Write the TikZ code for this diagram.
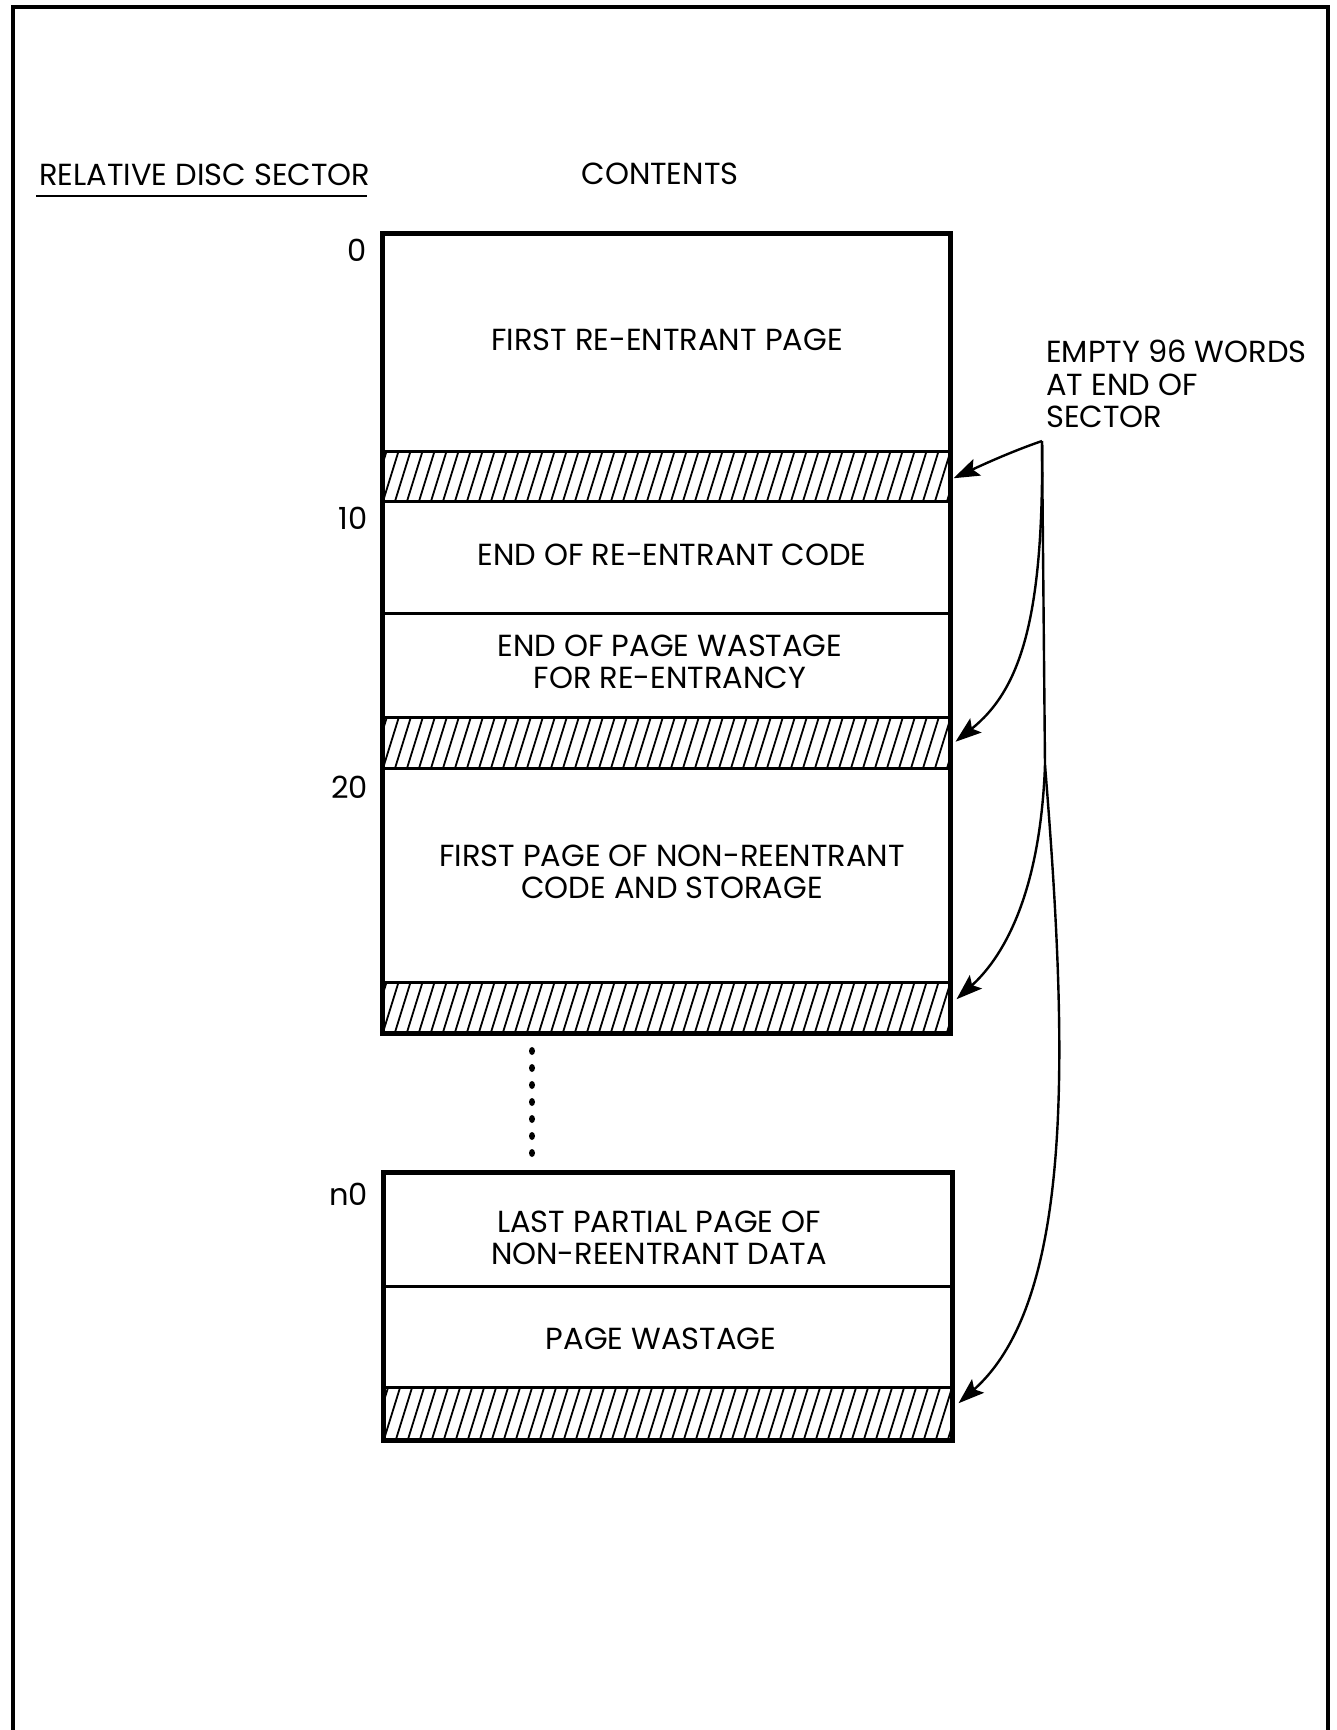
\documentclass[tikz,border=0pt]{standalone}
\usepackage{fontspec}
\setmainfont{Poppins}
\usetikzlibrary{arrows.meta,calc}
\begin{document}
\begin{tikzpicture}[x=1pt,y=-1pt,
  lbl/.style={inner sep=0pt, font=\fontsize{30.5}{32.5}\selectfont, align=center},
  cell/.style={draw, line width=2.5pt, minimum width=566pt, inner sep=0pt, anchor=north west},
  celltwo/.style={cell, minimum width=567pt},
  hatchline/.style={line width=1.8pt},
  outline/.style={line width=4pt},
  ptr/.style={line width=2.4pt, -{Stealth[length=26pt,width=18pt,inset=5pt]}},
]
\useasboundingbox (0,0) rectangle (1337,1730);
% outer frame
\draw[outline] (13,1730) -- (13,7) -- (1328,7) -- (1328,1730);
% first block
\node[cell, minimum height=217pt] (r1) at (382,233) {};
\node[cell, minimum height=50pt] (h1) at (382,450) {};
\node[cell, minimum height=112pt] (r2) at (382,500) {};
\node[cell, minimum height=104pt] (r3) at (382,612) {};
\node[cell, minimum height=51pt] (h2) at (382,716) {};
\node[cell, minimum height=214pt] (r4) at (382,767) {};
\node[cell, minimum height=50pt] (h3) at (382,981) {};
% second block
\node[celltwo, minimum height=113pt] (r5) at (383,1172) {};
\node[celltwo, minimum height=101pt] (r6) at (383,1285) {};
\node[celltwo, minimum height=52pt] (h4) at (383,1386) {};
% hatching
\foreach \b in {h1,h2,h3,h4}{
  \begin{scope}
    \clip (\b.north west) rectangle (\b.south east);
    \foreach \k in {0,...,50}
      \draw[hatchline] ($(\b.south west)+(\k*12-24,2)$) -- ++(18,-58);
  \end{scope}
}
\draw[outline] (r1.north west) rectangle (h3.south east);
\draw[outline] (r5.north west) rectangle (h4.south east);
% texts
\node[lbl] (t1) at (667,340) {FIRST RE-ENTRANT PAGE};
\node[lbl] (t2) at (672,555) {END OF RE-ENTRANT CODE};
\node[lbl] (t3) at (670,662) {END OF PAGE WASTAGE\\FOR RE-ENTRANCY};
\node[lbl] (t4) at (672,872) {FIRST PAGE OF NON-REENTRANT\\CODE AND STORAGE};
\node[lbl] (t5) at (659,1238) {LAST PARTIAL PAGE OF\\NON-REENTRANT DATA};
\node[lbl] (t6) at (661,1339) {PAGE WASTAGE};
% sector numbers
\node[lbl, anchor=east] (s0) at (367,250) {0};
\node[lbl, anchor=east] (s10) at (368,518) {10};
\node[lbl, anchor=east] (s20) at (368,787) {20};
\node[lbl, anchor=east] (sn) at (368,1194) {n0};
% headers
\node[lbl, anchor=west] (hdr) at (39,175) {RELATIVE DISC SECTOR};
\draw[line width=2.5pt] (36,196) -- (367,196);
\node[lbl] (cnt) at (660,174) {CONTENTS};
\node[lbl, anchor=west, align=left] (note) at (1046,384) {EMPTY 96 WORDS\\AT END OF\\SECTOR};
% dots
\foreach \yy in {1051,1068,1085,1102,1119,1136,1153}
  \fill (532,\yy) ellipse (3pt and 4pt);
% arrows
\coordinate (src) at (1042,441);
\coordinate (junc) at (1045,765);
\draw[ptr] (src) .. controls (1010,452) and (980,466) .. ([shift={(3,2)}]h1.east);
\draw[ptr] (src) .. controls (1044,620) and (1020,690) .. ([shift={(5,-1)}]h2.east);
\draw[ptr] (src) -- (junc) .. controls (1040,900) and (1000,960) .. ([shift={(6,-8)}]h3.east);
\draw[ptr] (junc) .. controls (1068,1050) and (1075,1300) .. ([shift={(6,-10)}]h4.east);
\end{tikzpicture}
\end{document}
